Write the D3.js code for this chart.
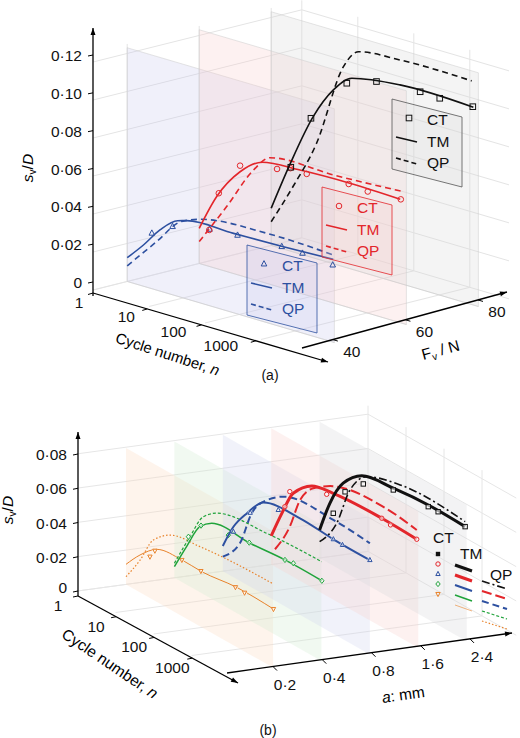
<!DOCTYPE html>
<html><head><meta charset="utf-8">
<script src="https://cdn.jsdelivr.net/npm/d3@7"></script>
<style>body{margin:0;background:#fff}text{font-family:"Liberation Sans",Arial,sans-serif}</style>
</head><body><svg id="c" width="520" height="738"></svg>
<script>
// ---------- DATA (logN = log10 of cycle number, s = sv/D) ----------
// Panel (a): planes at Fv = 40, 60, 80 N
const aForces = [40, 60, 80];
const aColors = ["#2d50a0", "#e3262b", "#111111"];
const aPlaneFill = ["#c8c8ee", "#f7cccc", "#d8d8d8"];
const aTM = [
 [[0,.0125],[.29,.0217],[.585,.0322],[.9,.0398],[1.06,.0412],[1.9,.0418],[2.79,.0425],[3.68,.0436]],
 [[0,.0185],[.31,.0378],[.73,.0546],[1.12,.063],[1.8,.0648],[2.69,.0656],[3.59,.065]],
 [[0,.0196],[.34,.046],[.75,.0743],[1.11,.0915],[1.44,.1005],[2.3,.1045],[3.61,.1041]]];
const aQP = [
 [[0,.0082],[.525,.0255],[.97,.040],[1.3,.044],[2.49,.047],[3.68,.0459]],
 [[0,.0115],[.49,.0342],[.97,.0576],[1.26,.0666],[2.4,.0674],[3.64,.0694]],
 [[0,.0125],[.39,.0344],[.81,.0608],[1.29,.1053],[1.56,.1155],[2.3,.1176],[3.58,.1177]]];
const aCT = [
 [[.44,.0292],[.81,.0359],[1.47,.0402],[1.97,.0414],[2.76,.0423],[3.13,.042],[3.67,.0405]],
 [[.18,.0192],[.35,.04],[.73,.0578],[1.39,.0618],[1.63,.0643],[1.92,.0638],[2.67,.065],[3.01,.064],[3.6,.065]],
 [[.35,.0442],[.71,.0731],[1.35,.0971],[1.88,.1026],[2.66,.104],[3.01,.1036],[3.6,.1043]]];
const aSTicks = [0,.02,.04,.06,.08,.10,.12];
const nTickLabels = ["1","10","100","1000"];
const aFTicks = [40,60,80];

// Panel (b): planes at a = 0.2, 0.4, 0.8, 1.6, 2.4 mm
const bAmps = ["0·2","0·4","0·8","1·6","2·4"];
const bColors = ["#e8822a","#1fa33a","#2d50a0","#e3262b","#111111"];
const bPlaneFill = ["#fbd9bf","#cfeccf","#cfd3f0","#f9d0cc","#d6d6dc"];
const bTM = [
 [[0,.0117],[.37,.0218],[.81,.0306],[1.47,.0327],[1.99,.0324],[2.91,.0348],[3.88,.0343]],
 [[0,.0065],[.32,.0222],[.67,.0382],[.98,.0441],[1.99,.0451],[2.91,.0469],[3.88,.0469]],
 [[0,.0147],[.28,.0294],[.63,.0416],[1.07,.0534],[2.03,.0563],[2.91,.0551],[3.87,.055]],
 [[0,.0167],[.28,.0334],[.58,.0489],[1.07,.0593],[1.63,.062],[2.91,.0635],[3.83,.0628]],
 [[0,.0163],[.27,.0353],[.62,.0514],[1.11,.0619],[1.94,.065],[2.91,.0668],[3.83,.0663]]];
const bQP = [
 [[0,.0045],[.37,.0188],[.72,.0349],[1.16,.0433],[1.95,.0464],[3.88,.0489]],
 [[0,.0085],[.41,.0291],[.76,.0451],[1.11,.0516],[2.43,.0564],[3.88,.058]],
 [[0,.0085],[.45,.0219],[.76,.0433],[1.16,.056],[1.59,.0634],[2.91,.0664],[3.87,.0648]],
 [[.1,.0102],[.49,.0283],[.76,.0472],[1.11,.0584],[1.55,.0652],[2.95,.0707],[3.83,.0682]],
 [[0,.0095],[.45,.0259],[.8,.0497],[1.24,.063],[2.12,.0692],[3.83,.0692]]];
const bCT = [
 [[.63,.0241],[.76,.0292],[1.47,.0327],[1.97,.0325],[2.88,.0345],[3.12,.0343],[3.88,.0343]],
 [[.37,.0286],[.7,.0392],[1.42,.0427],[1.97,.0452],[2.91,.0469],[3.13,.0477],[3.88,.0469]],
 [[.28,.0265],[.72,.0431],[1.46,.054],[2.91,.0551],[3.15,.0548],[3.87,.055]],
 [[.36,.0383],[.49,.0487],[1.46,.0593],[2.91,.0635],[3.14,.0625],[3.83,.0628]],
 [[.36,.0306],[.67,.047],[1.15,.0576],[1.94,.064],[2.86,.0658],[3.12,.0661],[3.83,.0663]]];
const bSTicks = [0,.02,.04,.06,.08];

// ---------- DRAWING ----------
const svg = d3.select("#c");
const line = d3.line().curve(d3.curveMonotoneX);
const FS = 15.5;

const aUx = d3.scaleLinear([0,1],[0,56]), aUy = d3.scaleLinear([0,1],[0,16.5]);
const aFx = d3.scaleLinear([30.5,88.5],[93,93+58*3.6]), aFy = d3.scaleLinear([30.5,88.5],[290,290-58*0.9]);
const aSy = d3.scaleLinear([0,.12],[0,228]);
const pa = (u,F,s)=>[aFx(F)+aUx(u), aFy(F)+aUy(u)-aSy(s)];
const bIx = d3.scaleLinear([0,1],[126,174.4]), bIy = d3.scaleLinear([0,1],[584.4,577.8]);
const bUx = d3.scaleLinear([0,1],[0,38]), bUy = d3.scaleLinear([0,1],[0,21.5]);
const bSy = d3.scaleLinear([0,.08],[0,137.2]);
const pb = (u,i,s)=>[bIx(i)+bUx(u), bIy(i)+bUy(u)-bSy(s)];

function arrow(g,x1,y1,x2,y2){
  g.append("line").attr("x1",x1).attr("y1",y1).attr("x2",x2).attr("y2",y2).attr("stroke","#000").attr("stroke-width",1.3);
  const a=Math.atan2(y2-y1,x2-x1),L=7,w=2.5;
  const p=[[x2,y2],[x2-L*Math.cos(a)+w*Math.sin(a),y2-L*Math.sin(a)-w*Math.cos(a)],[x2-L*Math.cos(a)-w*Math.sin(a),y2-L*Math.sin(a)+w*Math.cos(a)]];
  g.append("path").attr("d","M"+p.join("L")+"Z").attr("fill","#000");
}
function marker(g,type,x,y,col,r){
  if(type==="sq") g.append("rect").attr("x",x-r).attr("y",y-r).attr("width",2*r).attr("height",2*r).attr("fill","none").attr("stroke",col);
  else if(type==="sqf") g.append("rect").attr("x",x-r).attr("y",y-r).attr("width",2*r).attr("height",2*r).attr("fill",col);
  else if(type==="ci") g.append("circle").attr("cx",x).attr("cy",y).attr("r",r).attr("fill","none").attr("stroke",col);
  else if(type==="tr") g.append("path").attr("d",`M${x},${y-r*1.2}L${x+r},${y+r*0.7}L${x-r},${y+r*0.7}Z`).attr("fill","none").attr("stroke",col);
  else if(type==="tv") g.append("path").attr("d",`M${x},${y+r*1.2}L${x+r},${y-r*0.7}L${x-r},${y-r*0.7}Z`).attr("fill","none").attr("stroke",col);
  else if(type==="di") g.append("path").attr("d",`M${x},${y-r*1.2}L${x+r},${y}L${x},${y+r*1.2}L${x-r},${y}Z`).attr("fill","none").attr("stroke",col);
}
const txt=(g,x,y,t,o={})=>g.append("text").attr("x",x).attr("y",y).attr("font-size",o.fs||FS).attr("text-anchor",o.a||"start").attr("fill",o.c||"#111").text(t);

// ===== Panel (a) =====
const ga = svg.append("g");
aSTicks.forEach(s=>{
  const p1=pa(0,30.5,s),p2=pa(0,88.5,s),p3=pa(3.7,88.5,s);
  ga.append("path").attr("d",`M${p1}L${p2}L${p3}`).attr("fill","none").attr("stroke","#e4e4e4");
});
[0,1,2,3].forEach(u=>{const p1=pa(u,88.5,0),p2=pa(u,88.5,.125),p3=pa(u,30.5,0);
  ga.append("path").attr("d",`M${p2}L${p1}L${p3}`).attr("fill","none").attr("stroke","#e4e4e4");});
aFTicks.forEach(F=>{const p1=pa(0,F,0),p2=pa(0,F,.125),p3=pa(3.7,F,0);
  ga.append("path").attr("d",`M${p2}L${p1}L${p3}`).attr("fill","none").attr("stroke","#e4e4e4");});
aForces.forEach((F,i)=>{
  const c=[pa(0,F,0),pa(3.7,F,0),pa(3.7,F,.123),pa(0,F,.123)];
  ga.append("path").attr("d","M"+c.join("L")+"Z").attr("fill",aPlaneFill[i]).attr("fill-opacity",.28).attr("stroke","#ccc").attr("stroke-opacity",.5);
});
aForces.forEach((F,i)=>{
  ga.append("path").attr("d",line(aTM[i].map(d=>pa(d[0],F,d[1])))).attr("fill","none").attr("stroke",aColors[i]).attr("stroke-width",1.6);
  ga.append("path").attr("d",line(aQP[i].map(d=>pa(d[0],F,d[1])))).attr("fill","none").attr("stroke",aColors[i]).attr("stroke-width",1.6).attr("stroke-dasharray","6,4");
  aCT[i].forEach(d=>{const p=pa(d[0],F,d[1]);marker(ga,["tr","ci","sq"][i],p[0],p[1],aColors[i],2.8);});
});
const aAxS=d3.scaleLinear([0,.12],[282,55]);
arrow(ga,93,296,93,28);
aSTicks.forEach(s=>{const y=aAxS(s);ga.append("line").attr("x1",93).attr("x2",88).attr("y1",y).attr("y2",y+1).attr("stroke","#000");
  txt(ga,82,y+6,s===0?"0":d3.format(".2f")(s).replace(".","·"),{a:"end"});});
const aN=d3.scaleLinear([0,4.2],[0,1]);
arrow(ga,93,293,93+235*aN(4.2),293+69*aN(4.2));
nTickLabels.forEach((t,k)=>{const f=aN(k*0.97);const x=93+235*f,y=293+69*f;
  ga.append("line").attr("x1",x).attr("y1",y).attr("x2",x-5).attr("y2",y+1.5).attr("stroke","#000");
  txt(ga,x-14-7*k,y+15-1.5*k,t,{a:"middle"});});
const aFa=d3.scaleLinear([31.5,88],[0,1]);
arrow(ga,302,348,507,292);
aFTicks.forEach(F=>{const f=aFa(F),x=302+205*f,y=348-56*f;
  ga.append("line").attr("x1",x).attr("y1",y).attr("x2",x+5).attr("y2",y+1.5).attr("stroke","#000");
  txt(ga,x+19,y+17,F,{a:"middle"});});
const ta=ga.append("text").attr("transform","translate(33,168) rotate(-90)").attr("text-anchor","middle").attr("font-size",FS);
ta.append("tspan").attr("font-style","italic").text("s");ta.append("tspan").attr("font-size",10).attr("dy",3).text("v");
ta.append("tspan").attr("dy",-3).text("/");ta.append("tspan").attr("font-style","italic").text("D");
const tc=ga.append("text").attr("transform","translate(166,359) rotate(18)").attr("text-anchor","middle").attr("font-size",15);
tc.append("tspan").text("Cycle number, ");tc.append("tspan").attr("font-style","italic").text("n");
const tf=ga.append("text").attr("transform","translate(442,355) rotate(-15)").attr("text-anchor","middle").attr("font-size",FS);
tf.append("tspan").text("F");tf.append("tspan").attr("font-size",10).attr("dy",3).text("v");tf.append("tspan").attr("dy",-3).text(" / N");
txt(ga,270,380,"(a)",{a:"middle",fs:14});
const aLeg=[[247,245],[322,187],[392,99]];
aLeg.forEach((p,i)=>{
  const [x,y]=p,w=70,sk=18,h=70,c=aColors[i];
  ga.append("path").attr("d",`M${x},${y}L${x+w},${y+sk}L${x+w},${y+sk+h}L${x},${y+h}Z`).attr("fill",aPlaneFill[i]).attr("fill-opacity",.25).attr("stroke",i==2?"#555":c).attr("stroke-width",.8);
  marker(ga,["tr","ci","sq"][i],x+17,y+19,c,2.8);
  txt(ga,x+35,y+26,"CT",{c:c});
  ga.append("line").attr("x1",x+4).attr("y1",y+38).attr("x2",x+25).attr("y2",y+43).attr("stroke",c).attr("stroke-width",1.6);
  txt(ga,x+35,y+48,"TM",{c:c});
  ga.append("line").attr("x1",x+4).attr("y1",y+59).attr("x2",x+25).attr("y2",y+65).attr("stroke",c).attr("stroke-width",1.6).attr("stroke-dasharray","5,3");
  txt(ga,x+35,y+69,"QP",{c:c});
});

// ===== Panel (b) =====
const gb = svg.append("g");
bSTicks.forEach(s=>{const p1=pb(0,-1,s),p2=pb(0,5,s),p3=pb(3.9,5,s);
  gb.append("path").attr("d",`M${p1}L${p2}L${p3}`).attr("fill","none").attr("stroke","#e6e6e6");});
[0,1,2,3].forEach(u=>{const p1=pb(u,5,0),p2=pb(u,5,.085),p3=pb(u,-1,0);
  gb.append("path").attr("d",`M${p2}L${p1}L${p3}`).attr("fill","none").attr("stroke","#e6e6e6");});
bAmps.forEach((a,i)=>{
  const c=[pb(0,i,0),pb(3.87,i,0),pb(3.87,i,.0795),pb(0,i,.0795)];
  gb.append("path").attr("d","M"+c.join("L")+"Z").attr("fill",bPlaneFill[i]).attr("fill-opacity",.3).attr("stroke","none");
});
const bW=[1,1.5,2,3,3], bQW=[1.2,1.2,2,2,1.6];
const bDash=["1.5,2","3,2","7,4","10,4","8,3,2,3"];
const bMk=["tv","di","tr","ci","sq"];
bAmps.forEach((a,i)=>{
  gb.append("path").attr("d",line(bTM[i].map(d=>pb(d[0],i,d[1])))).attr("fill","none").attr("stroke",bColors[i]).attr("stroke-width",bW[i]);
  gb.append("path").attr("d",line(bQP[i].map(d=>pb(d[0],i,d[1])))).attr("fill","none").attr("stroke",bColors[i]).attr("stroke-width",bQW[i]).attr("stroke-dasharray",bDash[i]);
  bCT[i].forEach(d=>{const p=pb(d[0],i,d[1]);gb.append("g").call(g=>{g.append("circle").attr("cx",p[0]).attr("cy",p[1]).attr("r",2.6).attr("fill","#fff").attr("fill-opacity",.6);marker(g,bMk[i],p[0],p[1],bColors[i],2.2);});});
});
const bAxS=d3.scaleLinear([0,.08],[591,454]);
arrow(gb,78,596,78,432);
bSTicks.forEach(s=>{const y=bAxS(s);gb.append("line").attr("x1",78).attr("x2",73).attr("y1",y).attr("y2",y+1).attr("stroke","#000");
  txt(gb,67,s===0?y+2:y+6,s===0?"0":d3.format(".2f")(s).replace(".","·"),{a:"end"});});
const bN=d3.scaleLinear([0,4.2],[0,1]);
arrow(gb,78,596,238,683);
nTickLabels.forEach((t,k)=>{const f=bN(k),x=78+160*f,y=596+87*f;
  gb.append("line").attr("x1",x).attr("y1",y).attr("x2",x-5).attr("y2",y+1).attr("stroke","#000");
  txt(gb,x-20,y+15,t,{a:"middle"});});
const bA=d3.scalePoint(bAmps,[273,470]);
arrow(gb,227,673,512,633);
bAmps.forEach(a=>{const x=bA(a),y=673-(x-227)*40/285;
  gb.append("line").attr("x1",x).attr("y1",y).attr("x2",x+4).attr("y2",y+4).attr("stroke","#000");
  txt(gb,x+12,y+23,a,{a:"middle"});});
const tb=gb.append("text").attr("transform","translate(13,510) rotate(-90)").attr("text-anchor","middle").attr("font-size",FS);
tb.append("tspan").attr("font-style","italic").text("s");tb.append("tspan").attr("font-size",10).attr("dy",3).text("v");
tb.append("tspan").attr("dy",-3).text("/");tb.append("tspan").attr("font-style","italic").text("D");
const tc2=gb.append("text").attr("transform","translate(107,668) rotate(34)").attr("text-anchor","middle").attr("font-size",FS);
tc2.append("tspan").text("Cycle number, ");tc2.append("tspan").attr("font-style","italic").text("n");
const ta2=gb.append("text").attr("transform","translate(404,700) rotate(-8)").attr("text-anchor","middle").attr("font-size",FS);
ta2.append("tspan").attr("font-style","italic").text("a");ta2.append("tspan").text(": mm");
txt(gb,268,735,"(b)",{a:"middle",fs:14});
txt(gb,433,543,"CT");txt(gb,460,559,"TM");txt(gb,490,580,"QP");
bMk.slice().reverse().forEach((m,k)=>{const i=4-k;const y=554+k*10;
  marker(gb,m==="sq"?"sqf":m,438,y,bColors[i],2.2);
  gb.append("line").attr("x1",455).attr("y1",y+11).attr("x2",472).attr("y2",y+17).attr("stroke",bColors[i]).attr("stroke-width",bW[i]).attr("stroke-opacity",i==0?.6:1);
  gb.append("line").attr("x1",482).attr("y1",y+27).attr("x2",507).attr("y2",y+35).attr("stroke",bColors[i]).attr("stroke-width",bQW[i]).attr("stroke-dasharray",bDash[i]);
});
</script></body></html>
